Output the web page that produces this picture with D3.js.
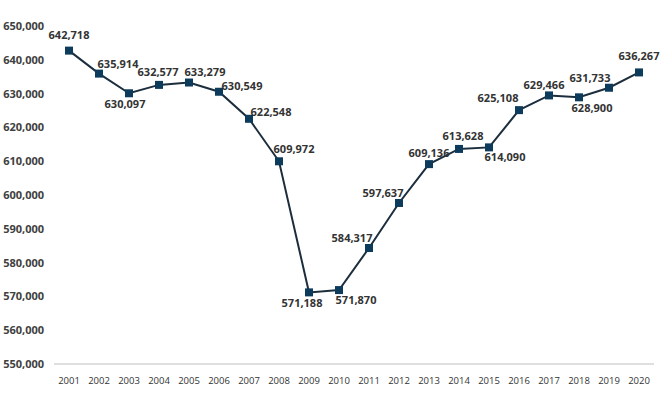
<!DOCTYPE html>
<html>
<head>
<meta charset="utf-8">
<script src="https://cdn.jsdelivr.net/npm/d3@7"></script>
<style>
  body { margin: 0; background: #fff; }
  text { font-family: "Open Sans", sans-serif; }
</style>
</head>
<body>
<div id="chart"></div>
<script>
// Data
var years = ["2001","2002","2003","2004","2005","2006","2007","2008","2009","2010",
             "2011","2012","2013","2014","2015","2016","2017","2018","2019","2020"];
var values = [642718, 635914, 630097, 632577, 633279, 630549, 622548, 609972, 571188, 571870,
              584317, 597637, 609136, 613628, 614090, 625108, 629466, 628900, 631733, 636267];
var yTicks = [550000, 560000, 570000, 580000, 590000, 600000, 610000, 620000, 630000, 640000, 650000];

// label offsets (dx, dy) from each marker, roughly like the original
var labelDx = [0, 19, -4, -1, 16, 23, 22, 15, -7, 17, -17, -16, 0, 4, 16, -21, -5, 13, -19, 0];
var labelDy = [-16, -10, 11, -13, -11, -6, -7, -12, 11, 10, -10, -10, -11, -13, 10, -12, -10, 11, -10, -16];

// Dimensions
var W = 671, H = 394;
var margins = {top: 26, bottom: 30, left: 54, right: 17};
var width = W - margins.left - margins.right;
var height = H - margins.top - margins.bottom;

var svg = d3.select("#chart").append("svg")
  .attr("width", W)
  .attr("height", H);

var g = svg.append("g")
  .attr("transform", "translate(" + margins.left + "," + margins.top + ")");

var x = d3.scaleBand()
  .domain(years)
  .range([0, width]);

var y = d3.scaleLinear()
  .domain([550000, 650000])
  .range([height, 0]);

var fmt = d3.format(",");

// Y labels (no axis line)
g.selectAll(".ylab").data(yTicks).enter().append("text")
  .attr("class", "ylab")
  .attr("x", -10)
  .attr("y", function(d){ return y(d) + 4; })
  .attr("text-anchor", "end")
  .attr("font-size", 11)
  .attr("font-weight", 700)
  .attr("fill", "#404040")
  .text(fmt);

// Baseline
g.append("line")
  .attr("x1", 0).attr("x2", width)
  .attr("y1", height).attr("y2", height)
  .attr("stroke", "#bfbfbf")
  .attr("stroke-width", 1);

// X labels
g.selectAll(".xlab").data(years).enter().append("text")
  .attr("class", "xlab")
  .attr("x", function(d){ return x(d) + x.bandwidth() / 2; })
  .attr("y", height + 20)
  .attr("text-anchor", "middle")
  .attr("font-size", 9.5)
  .attr("fill", "#333")
  .text(function(d){ return d; });

var pts = years.map(function(d, i){ return {year: d, value: values[i], i: i}; });

var line = d3.line()
  .x(function(d){ return x(d.year) + x.bandwidth() / 2; })
  .y(function(d){ return y(d.value); });

g.append("path")
  .datum(pts)
  .attr("d", line)
  .attr("fill", "none")
  .attr("stroke", "#1c2e3d")
  .attr("stroke-width", 2);

g.selectAll(".mark").data(pts).enter().append("rect")
  .attr("class", "mark")
  .attr("x", function(d){ return x(d.year) + x.bandwidth() / 2 - 4; })
  .attr("y", function(d){ return y(d.value) - 4; })
  .attr("width", 8)
  .attr("height", 8)
  .attr("fill", "#0d3b5c");

g.selectAll(".vlab").data(pts).enter().append("text")
  .attr("class", "vlab")
  .attr("x", function(d){ return x(d.year) + x.bandwidth() / 2 + labelDx[d.i]; })
  .attr("y", function(d){ return y(d.value) + labelDy[d.i] + 4; })
  .attr("text-anchor", "middle")
  .attr("font-size", 11)
  .attr("font-weight", 700)
  .attr("fill", "#333")
  .text(function(d){ return fmt(d.value); });
</script>
</body>
</html>
